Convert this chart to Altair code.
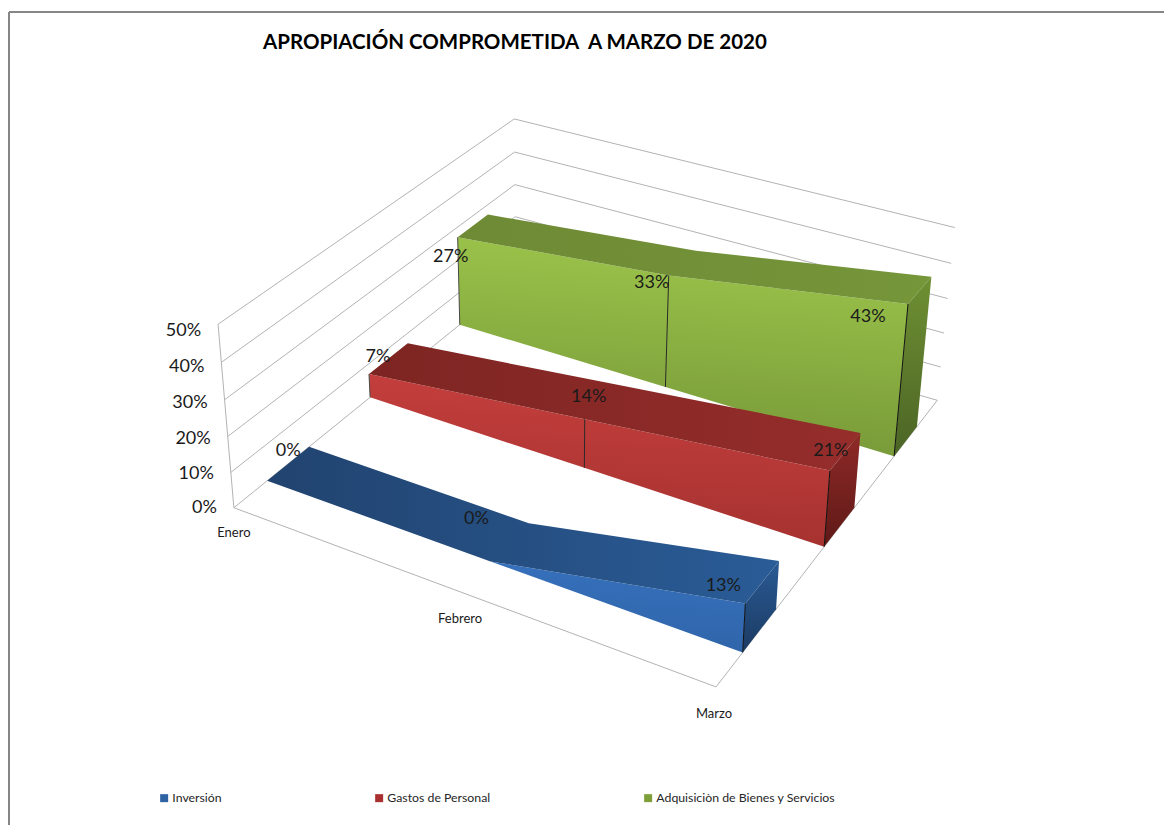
import altair as alt
import numpy as np
import pandas as pd

W, H = 1156, 817
MARGIN = 8

TITLE = "APROPIACIÓN COMPROMETIDA \u00a0A MARZO DE 2020"
MONTHS = ["Enero", "Febrero", "Marzo"]
SERIES = ["Inversión", "Gastos de Personal", "Adquisiciòn de Bienes y Servicios"]
INVERSION = [0, 0, 13]
GASTOS = [7, 14, 21]
ADQUISICION = [27, 33, 43]
VALUES = [INVERSION, GASTOS, ADQUISICION]
TICKS = [0, 10, 20, 30, 40, 50]
LEGEND_COLORS = ["#2F62A3", "#A9302E", "#7F9F3A"]

# Where each ribbon sits along the depth axis (0 = front, 1 = back)
DEPTH = [(0.100, 0.232), (0.437, 0.575), (0.77, 0.889)]
MONTH_POS = [0.0, 0.5, 1.0]
VMAX = 50.0

# Camera calibration: box corners (month, depth, value/50) -> page pixel
CORNERS = [
    ((0, 0, 0), (234, 506)), ((1, 0, 0), (716, 688)), ((1, 1, 0), (938, 398)),
    ((0, 1, 0), (515, 282)), ((0, 0, 1), (218, 325)), ((0, 1, 1), (515, 117)),
    ((1, 1, 1), (954, 229)),
]
rows = []
for (a, b, c), (px, py) in CORNERS:
    rows.append([a, b, c, 1, 0, 0, 0, 0, -px * a, -px * b, -px * c, -px])
    rows.append([0, 0, 0, 0, a, b, c, 1, -py * a, -py * b, -py * c, -py])
CAM = np.linalg.svd(np.array(rows, float))[2][-1].reshape(3, 4)


def project(u, v, value):
    p = CAM @ np.array([u, v, value / VMAX, 1.0])
    return p[0] / p[2] - MARGIN, p[1] / p[2] - MARGIN


X = alt.X("x:Q", scale=alt.Scale(domain=[0, W], range=[0, W]), axis=None)
Y = alt.Y("y:Q", scale=alt.Scale(domain=[H, 0]), axis=None)


def grad(stops, x1=0.0, y1=0.0, x2=0.0, y2=1.0):
    return alt.Gradient(
        gradient="linear", x1=x1, y1=y1, x2=x2, y2=y2,
        stops=[alt.GradientStop(color=c, offset=o) for c, o in stops],
    )


def polygon(points, fill):
    df = pd.DataFrame([{"x": x, "y": y, "i": i} for i, (x, y) in enumerate(points)])
    return alt.Chart(df).mark_line(fill=fill, strokeWidth=0, strokeOpacity=0, interpolate="linear-closed").encode(
        x=X, y=Y, order=alt.Order("i:Q"))


def segment(a, b, color, width=1.0):
    df = pd.DataFrame([{"x": a[0], "y": a[1], "i": 0}, {"x": b[0], "y": b[1], "i": 1}])
    return alt.Chart(df).mark_line(color=color, strokeWidth=width).encode(
        x=X, y=Y, order=alt.Order("i:Q"))


def text_layer(rows_, font_size, color="#1a1a1a", align="center"):
    df = pd.DataFrame(rows_)
    return alt.Chart(df).mark_text(
        font="Lato", fontSize=font_size, color=color, align=align, baseline="middle"
    ).encode(x=X, y=Y, text="t:N")


layers = []

# Frame
layers.append(segment((1, 4), (W, 4), "#868686", 2))
layers.append(segment((1, 4), (1, H), "#868686", 2))

# Walls and floor
GRID = "#b3b3b3"
for t in TICKS:
    layers.append(segment(project(0, 0, t), project(0, 1, t), GRID))
    layers.append(segment(project(0, 1, t), project(1, 1, t), GRID))
layers.append(segment(project(0, 0, 0), project(0, 0, 50), GRID))
layers.append(segment(project(0, 0, 0), project(1, 0, 0), GRID))
layers.append(segment(project(1, 0, 0), project(1, 1, 0), GRID))

# Ribbon styling, one entry per series
STYLE = [
    dict(top=[("#21436F", 0), ("#2A5C97", 1)],
         front=[("#3E7ECF", 0), ("#2F64A9", 1)],
         side=[("#2A5A94", 0), ("#1B3B63", 1)]),
    dict(top=[("#7D2522", 0), ("#952D2B", 1)],
         front=[("#C8403E", 0), ("#A53230", 1)],
         side=[("#8F2A27", 0), ("#5E1917", 1)]),
    dict(top=[("#6E8A35", 0), ("#76963A", 1)],
         front=[("#9FC84C", 0), ("#789A39", 1)],
         side=[("#6F9033", 0), ("#4B6425", 1)]),
]

for s in (2, 1, 0):
    vf, vb = DEPTH[s]
    vals = VALUES[s]
    st = STYLE[s]
    ft = [project(u, vf, val) for u, val in zip(MONTH_POS, vals)]
    bt = [project(u, vb, val) for u, val in zip(MONTH_POS, vals)]
    ff = [project(u, vf, 0) for u in MONTH_POS]
    bf = [project(u, vb, 0) for u in MONTH_POS]
    layers.append(polygon(ft + ff[::-1], grad(st["front"], x1=0.95, y1=0.0, x2=0.8, y2=1.0)))
    layers.append(polygon(ft + bt[::-1], grad(st["top"], x2=1.0, y2=0.0)))
    layers.append(polygon([ft[-1], bt[-1], bf[-1], ff[-1]], grad(st["side"])))
    if vals[0] > 0:
        layers.append(segment(ft[0], ff[0], "#4a4a4a"))
    if vals[1] > 0:
        layers.append(segment(ft[1], ff[1], "#2a2a2a"))
    if vals[2] > 0:
        layers.append(segment(ft[2], ff[2], "#111111"))

# Data labels, nudged off the front top edge of their ribbon
LABEL_NUDGE = [
    [(21, -30), (-14, -42), (-22, -17)],
    [(9, -17), (4, -22), (1, -20)],
    [(-7, 20), (-17, 8), (-40, 13)],
]
label_rows = []
for s in range(3):
    for m in range(3):
        x, y = project(MONTH_POS[m], DEPTH[s][0], VALUES[s][m])
        dx, dy = LABEL_NUDGE[s][m]
        label_rows.append({"x": x + dx, "y": y + dy, "t": f"{VALUES[s][m]}%"})
layers.append(text_layer(label_rows, 18))

# Value axis labels
TICK_NUDGE_Y = [0, 2, 3, 3, 5, 7]
tick_rows = []
for t, dy in zip(TICKS, TICK_NUDGE_Y):
    x, y = project(0, 0, t)
    tick_rows.append({"x": x - 17, "y": y + dy, "t": f"{t}%"})
layers.append(text_layer(tick_rows, 18, align="right"))

# Month labels
MONTH_NUDGE = [(0, 25), (0, 27), (-2, 27)]
month_rows = []
for m, name in enumerate(MONTHS):
    x, y = project(MONTH_POS[m], 0, 0)
    month_rows.append({"x": x + MONTH_NUDGE[m][0], "y": y + MONTH_NUDGE[m][1], "t": name})
layers.append(text_layer(month_rows, 13))

# Legend carrier
legend_df = pd.DataFrame({"serie": SERIES, "x": [W / 2] * 3, "y": [H / 2] * 3})
layers.append(
    alt.Chart(legend_df).mark_point(filled=True, opacity=0).encode(
        x=X, y=Y,
        color=alt.Color(
            "serie:N",
            scale=alt.Scale(domain=SERIES, range=LEGEND_COLORS),
            legend=alt.Legend(
                title=None, orient="none", legendX=150, legendY=784, direction="horizontal",
                columns=3, gridAlign="none", columnPadding=151, symbolType="square", symbolSize=64,
                symbolOpacity=1, labelFont="Lato", labelFontSize=12.3, labelColor="#262626",
                labelOffset=2, labelLimit=400,
            ),
        ),
    )
)

chart = alt.layer(*layers).properties(
    width=W, height=H, padding=0, autosize=alt.AutoSizeParams(type="none"),
    title=alt.TitleParams(
        TITLE, font="Lato", fontSize=20.5, fontWeight="bold", color="#000000",
        anchor="start", dx=255, dy=45, offset=0, frame="group",
    ),
).configure_view(stroke=None)

chart.save("out.html", embed_options={"renderer": "svg", "actions": False})
